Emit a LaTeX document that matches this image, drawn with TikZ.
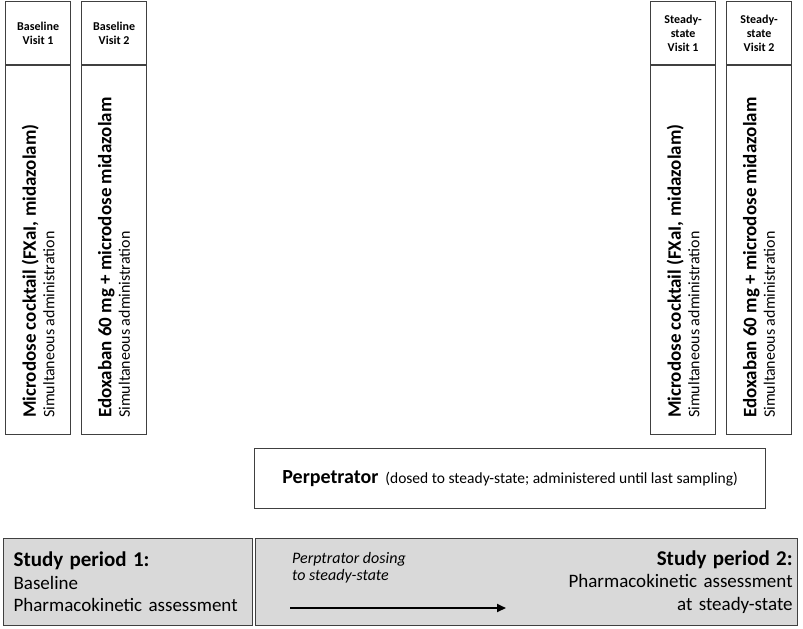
\documentclass[tikz,border=0pt]{standalone}
\usepackage{fontspec}
\setmainfont{Carlito}
\usetikzlibrary{positioning,arrows.meta}
\definecolor{framegray}{HTML}{404040}
\definecolor{periodgray}{HTML}{D9D9D9}

\begin{document}
\begin{tikzpicture}[x=1pt,y=-1pt,
  frame/.style={draw=framegray,line width=1.2pt,inner sep=0pt,anchor=north west},
  visithead/.style={frame,minimum width=65pt,minimum height=63pt,align=center,font=\fontsize{12}{14}\selectfont\bfseries},
  visitbody/.style={frame,minimum width=65pt,minimum height=369pt},
  dosetext/.style={rotate=90,anchor=west,align=left,inner sep=0pt,font=\fontsize{16}{18.5}\selectfont},
  period/.style={frame,fill=periodgray,minimum height=87pt,font=\fontsize{19}{22.5}\selectfont}]
\useasboundingbox(0,0)rectangle(803,629);
% visit columns
\node[visithead](bv1)at(5,1){Baseline\\Visit 1};
\node[visithead](bv2)at(81,1){Baseline\\Visit 2};
\node[visithead](sv1)at(650,1){Steady-\\state\\Visit 1};
\node[visithead](sv2)at(726,1){Steady-\\state\\Visit 2};
\node[visitbody](bv1b)at(bv1.south west){};
\node[visitbody](bv2b)at(bv2.south west){};
\node[visitbody](sv1b)at(sv1.south west){};
\node[visitbody](sv2b)at(sv2.south west){};
\node[dosetext](bv1t)at(bv1b.center|-0,418){{\fontsize{19}{18.5}\selectfont\bfseries Microdose cocktail (FXaI, midazolam)}\\Simultaneous administration};
\node[dosetext](bv2t)at(bv2b.center|-0,418){{\fontsize{19}{18.5}\selectfont\bfseries Edoxaban 60 mg + microdose midazolam}\\Simultaneous administration};
\node[dosetext](sv1t)at(sv1b.center|-0,418){{\fontsize{19}{18.5}\selectfont\bfseries Microdose cocktail (FXaI, midazolam)}\\Simultaneous administration};
\node[dosetext](sv2t)at(sv2b.center|-0,418){{\fontsize{19}{18.5}\selectfont\bfseries Edoxaban 60 mg + microdose midazolam}\\Simultaneous administration};
% perpetrator
\node[frame,minimum width=511pt,minimum height=60pt](perp)at(254,448){{\fontsize{20}{24}\selectfont\bfseries Perpetrator}\hspace{7pt}{\fontsize{15.5}{18}\selectfont(dosed to steady-state; administered until last sampling)}};
% study periods
\node[period,minimum width=249pt,text width=229pt,inner xsep=10pt,align=left](sp1)at(3,538){{\fontsize{21}{22.5}\selectfont\bfseries Study period 1:}\\Baseline\\Pharmacokinetic assessment};
\node[period,minimum width=542pt,text width=532pt,inner xsep=5pt,align=right](sp2)at(255,538){{\fontsize{21}{22.5}\selectfont\bfseries Study period 2:}\\Pharmacokinetic assessment\\at steady-state};
\coordinate(doseS)at(290,608);
\coordinate(doseE)at(506,608);
\draw[line width=2pt,-{Triangle[length=9pt,width=8pt]}](doseS)--(doseE);
\node[anchor=base west,align=left,inner sep=0pt,font=\fontsize{16}{17}\selectfont\itshape](dosetxt)at(292,580){Perptrator dosing\\to steady-state};
\end{tikzpicture}
\end{document}
